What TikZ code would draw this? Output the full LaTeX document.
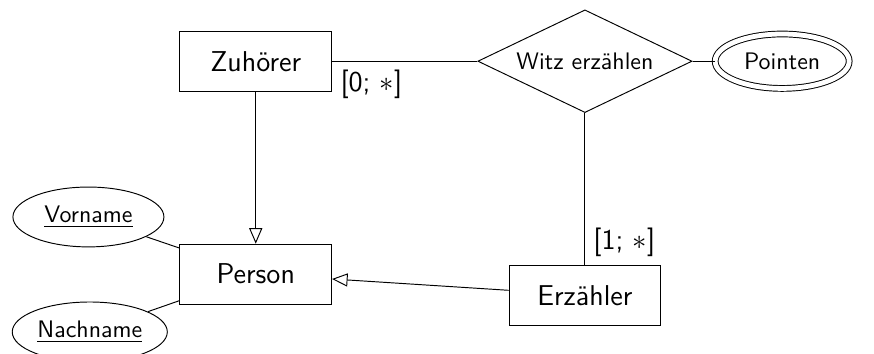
\documentclass[tikz,border=0pt]{standalone}
\usetikzlibrary{shapes.geometric,arrows.meta}
\renewcommand{\familydefault}{\sfdefault}
\tikzset{>=latex}
\tikzset{
  entity/.style={draw, rectangle, minimum width=2.23cm, minimum height=0.88cm, font=\large},
  relation/.style={draw, diamond, aspect=2, inner sep=1pt, minimum width=3.15cm, minimum height=1.51cm},
  attr/.style={draw, ellipse, inner sep=1pt, minimum width=2.22cm, minimum height=0.88cm},
  multiattr/.style={draw, ellipse, double, double distance=2pt, minimum width=1.97cm, minimum height=0.80cm},
  isa/.style={-{Triangle[open, length=6.5pt, width=5.5pt]}}
}

\begin{document}
\begin{tikzpicture}
      \useasboundingbox (0,0) rectangle (12.85,-5.2);
      \node[entity] (zuhoerer) at (3.76,-0.9) {Zuhörer};
      \node[relation, right of=zuhoerer, node distance=4.84cm] (witz) {Witz erzählen};
      \node[multiattr, right of=witz, node distance=2.9cm] (pointen) {Pointen};
      \node[entity, below of=zuhoerer, node distance=3.13cm] (person) {Person};
      \node[entity, below of=witz, node distance=3.44cm] (erzaehler) {Erzähler};
      \node[attr, left of=person, node distance=2.46cm, yshift=0.84cm] (vorname) {\underline{Vorname}};
      \node[attr, left of=person, node distance=2.44cm, yshift=-0.85cm, minimum width=2.28cm] (nachname) {\underline{Nachname}};
      \draw (zuhoerer) to node[pos=0, anchor=north west]{\large [0; $\ast$]} (witz);
      \draw (witz) to (pointen);
      \draw (witz) to node[pos=1, anchor=south west]{\large [1; $\ast$]} (erzaehler);
      \draw[isa] (zuhoerer) to (person);
      \draw[isa] (erzaehler) to (person);
      \draw (vorname) to (person);
      \draw (nachname) to (person);
    \end{tikzpicture}
\end{document}
